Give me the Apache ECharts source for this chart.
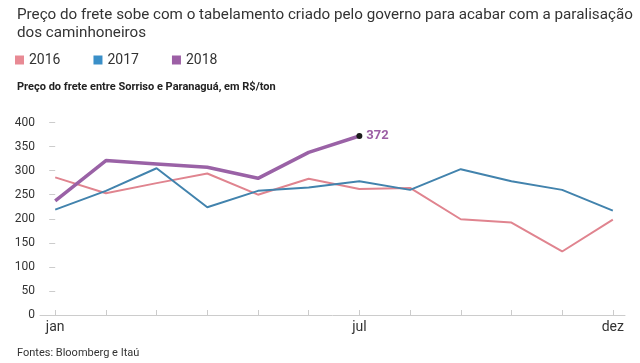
<!DOCTYPE html>
<html>
<head>
<meta charset="utf-8">
<script src="https://cdn.jsdelivr.net/npm/echarts@6/dist/echarts.min.js"></script>
<style>html,body{margin:0;padding:0;background:#fff}#c{width:640px;height:363px}</style>
</head>
<body>
<div id="c"></div>
<script>
const months = ['jan','fev','mar','abr','mai','jun','jul','ago','set','out','nov','dez'];
const shownMonthLabels = ['jan','jul','dez'];
const yTicks = [0,50,100,150,200,250,300,350,400];
const v2016 = [286,253,274,294,250,283,262,264,199,192,132,198];
const v2017 = [219,258,305,224,258,265,278,260,303,278,260,217];
const v2018 = [237,321,314,307,284,338,372];

const FONT = 'Roboto,"Open Sans",sans-serif';
const toPairs = arr => arr.map((v,i)=>[i,v]);
const d2018 = toPairs(v2018);
const last = d2018.length-1;
d2018[last] = {value: d2018[last], symbol:'circle', symbolSize:6,
  itemStyle:{color:'#1a1a1a'},
  label:{show:true, position:'right', distance:4, formatter:p=>String(p.value[1]), color:'#9c5fa5', fontWeight:'bold', fontSize:13, fontFamily:FONT}};

const chart = echarts.init(document.getElementById('c'), null, {renderer:'canvas'});
chart.setOption({
  animation:false,
  title:[
    {text:'Preço do frete sobe com o tabelamento criado pelo governo para acabar com a paralisação\ndos caminhoneiros', left:12, top:1,
     textStyle:{fontFamily:FONT, fontSize:15.2, fontWeight:'normal', color:'#333', lineHeight:18}},
    {text:'Preço do frete entre Sorriso e Paranaguá, em R$/ton', left:12, top:77,
     textStyle:{fontFamily:FONT, fontSize:11, fontWeight:'bold', color:'#222'}},
    {text:'Fontes: Bloomberg e Itaú', left:12, top:343,
     textStyle:{fontFamily:FONT, fontSize:11, fontWeight:'normal', color:'#333'}}
  ],
  legend:{left:10, top:48, icon:'rect', itemWidth:9, itemHeight:9, itemGap:33, padding:5,
    textStyle:{fontFamily:FONT, fontSize:14, color:'#333'},
    data:['2016','2017','2018']},
  grid:{left:40, right:15, top:122.5, bottom:48, containLabel:false},
  xAxis:{type:'value', min:-0.3, max:11.24,
    axisLine:{show:true, lineStyle:{color:'#cccccc', width:1}},
    axisTick:{show:true, inside:true, length:5, lineStyle:{color:'#cccccc'}, customValues: months.map((m,i)=>i)},
    axisLabel:{show:true, customValues: shownMonthLabels.map(m=>months.indexOf(m)), formatter:v=>months[Math.round(v)],
      fontFamily:FONT, fontSize:14, color:'#333', margin:5},
    splitLine:{show:false}},
  yAxis:{type:'value', min:0, max:400, interval:50,
    axisLine:{show:false},
    axisTick:{show:true, length:6, lineStyle:{color:'#cccccc'}},
    axisLabel:{fontFamily:FONT, fontSize:12, color:'#333', margin:5, customValues:yTicks},
    splitLine:{show:false}},
  series:[
    {name:'2016', type:'line', data:toPairs(v2016), showSymbol:false, symbol:'none', color:'#e88a94',
     lineStyle:{width:2, color:'#e0848f'}, z:2},
    {name:'2017', type:'line', data:toPairs(v2017), showSymbol:false, symbol:'none', color:'#3a8fc8',
     lineStyle:{width:2, color:'#4283ad'}, z:3},
    {name:'2018', type:'line', data:d2018, symbol:'none', color:'#9c5fa5',
     lineStyle:{width:3.5, color:'#9a62a6'}, z:4}
  ]
});
</script>
</body>
</html>
